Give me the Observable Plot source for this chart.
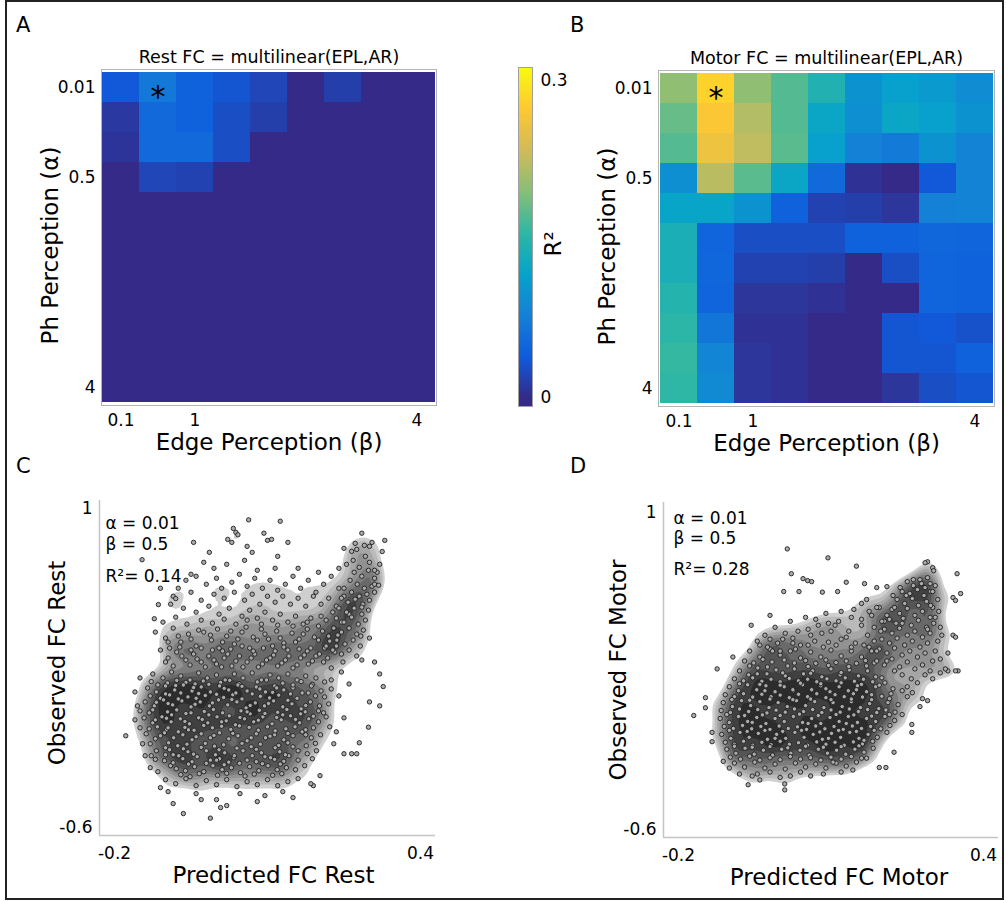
<!DOCTYPE html>
<html><head><meta charset="utf-8">
<script src="https://cdn.jsdelivr.net/npm/d3@7"></script>
<script src="https://cdn.jsdelivr.net/npm/@observablehq/plot@0.6"></script>
<style>
body{margin:0;background:#fff;}
#fig{position:relative;width:1006px;height:901px;overflow:hidden;background:#fff;font-family:'DejaVu Sans',sans-serif;}
#border{position:absolute;left:5px;top:0px;width:995px;height:896px;border:2px solid #222;pointer-events:none;}
</style></head><body><div id="fig"></div>
<script>
// ---------------- data ----------------
const betaLabels = ["0.1","0.5","1","1.5","2","2.5","3","3.5","4"];
const alphaLabels = ["0.01","0.1","0.25","0.5","1","1.5","2","2.5","3","3.5","4"];
const betaTicks = ["0.1","1","4"];
const alphaTicks = ["0.01","0.5","4"];
const best = [{alpha:"0.01", beta:"0.5"}];

// R^2, rows = alpha (top to bottom), cols = beta
const restR2 = [
 [0.037,0.069,0.044,0.034,0.022,0,0.016,0,0],
 [0.012,0.053,0.044,0.028,0.016,0,0,0,0],
 [0.008,0.053,0.053,0.028,0,0,0,0,0],
 [0,0.022,0.019,0,0,0,0,0,0],
 [0,0,0,0,0,0,0,0,0],
 [0,0,0,0,0,0,0,0,0],
 [0,0,0,0,0,0,0,0,0],
 [0,0,0,0,0,0,0,0,0],
 [0,0,0,0,0,0,0,0,0],
 [0,0,0,0,0,0,0,0,0],
 [0,0,0,0,0,0,0,0,0]
];
const motorR2 = [
 [0.200,0.281,0.200,0.172,0.144,0.097,0.112,0.106,0.090],
 [0.181,0.271,0.218,0.172,0.122,0.094,0.122,0.112,0.097],
 [0.172,0.259,0.225,0.175,0.112,0.078,0.072,0.097,0.081],
 [0.094,0.222,0.175,0.122,0.053,0.006,0.000,0.037,0.081],
 [0.119,0.119,0.097,0.044,0.019,0.016,0.009,0.078,0.081],
 [0.137,0.047,0.028,0.028,0.028,0.044,0.044,0.050,0.047],
 [0.137,0.050,0.019,0.019,0.016,0.000,0.028,0.047,0.044],
 [0.147,0.047,0.009,0.009,0.006,0.000,0.000,0.047,0.044],
 [0.153,0.066,0.006,0.006,0.000,0.000,0.034,0.037,0.031],
 [0.159,0.084,0.009,0.006,0.000,0.000,0.034,0.034,0.044],
 [0.156,0.087,0.009,0.006,0.000,0.000,0.009,0.028,0.034]
];
const colorTicks = [0, 0.3];
const parulaColors = ["#352A87","#0F5CDD","#1481D6","#06A4CA","#2EB7A4","#87BF77","#D1BB59","#FEC832","#F9FB0E"];

// scatter points (thousandths): [predicted, observed]
const restCore = [
[-125,170],[-105,150],[-88,180],[-70,160],[-52,140],[-35,175],[-18,150],[0,165],[17,140],[35,170],[52,150],[70,175],[88,140],[105,165],[122,150],[140,170],[158,140],[175,160],[195,150],[212,130],
[-128,132],[-96,125],[-78,138],[-60,128],[-42,120],[-26,135],[8,128],[26,138],[44,122],[80,130],[98,140],[130,124],[166,132],[188,118],[225,140],
[-135,100],[-118,80],[-100,110],[-82,90],[-65,115],[-48,85],[-30,105],[-12,80],[6,110],[24,90],[42,115],[60,85],[78,105],[96,80],[114,110],[132,90],[150,100],[168,75],[186,110],[205,85],[225,95],
[-130,60],[-110,48],[-92,65],[-56,55],[-40,48],[-22,62],[14,52],[32,66],[50,45],[86,58],[104,50],[122,64],[158,48],[194,60],[212,55],
[-140,30],[-122,10],[-104,40],[-86,15],[-68,35],[-50,5],[-32,30],[-14,10],[4,40],[22,15],[40,30],[58,0],[76,25],[94,10],[112,35],[130,5],[148,20],[166,-5],[184,30],[202,10],[220,20],
[-150,-15],[-132,-25],[-96,-20],[-78,-10],[-60,-28],[-24,-18],[-6,-8],[12,-25],[48,-15],[66,-30],[84,-12],[120,-22],[138,-8],[174,-20],[210,-25],
[-142,-50],[-125,-75],[-107,-45],[-89,-70],[-71,-55],[-53,-80],[-35,-50],[-17,-75],[1,-45],[19,-65],[37,-85],[55,-55],[73,-70],[91,-45],[109,-80],[127,-60],[145,-40],[163,-75],[181,-55],[200,-70],[215,-45],
[-132,-105],[-116,-95],[-98,-110],[-62,-98],[-44,-112],[-8,-100],[10,-92],[28,-108],[64,-98],[82,-112],[100,-95],[136,-105],[154,-95],[190,-100],[222,-95],
[-138,-130],[-120,-155],[-102,-125],[-84,-150],[-66,-135],[-48,-160],[-30,-130],[-12,-150],[6,-125],[24,-155],[42,-140],[60,-165],[78,-130],[96,-150],[114,-135],[132,-160],[150,-140],[168,-120],[186,-150],[204,-135],
[-130,-180],[-94,-175],[-76,-190],[-58,-182],[-22,-178],[-4,-192],[14,-185],[50,-178],[68,-195],[86,-182],[122,-188],[140,-175],[176,-190],[194,-178],
[-118,-215],[-100,-235],[-92,-210],[-74,-240],[-56,-220],[-38,-245],[-20,-215],[-2,-235],[16,-225],[34,-250],[52,-215],[70,-240],[88,-225],[106,-250],[124,-220],[142,-240],[160,-215],[178,-230],
[-102,-265],[-66,-255],[-48,-270],[-12,-262],[6,-255],[24,-272],[60,-262],[78,-270],[114,-258],[132,-268],[160,-262],
[-90,-290],[-79,-305],[-61,-315],[-43,-295],[-25,-320],[-7,-290],[11,-310],[29,-300],[47,-325],[65,-295],[83,-315],[101,-290],[119,-310],[137,-300],
[-70,-335],[-52,-345],[-34,-330],[2,-338],[20,-328],[56,-342],[74,-332],[110,-338],[128,-330],
[-115,115],[-80,112],[-45,102],[-15,118],[15,98],[50,108],[85,95],[118,100],[150,115],
[-118,28],[-95,22],[-75,45],[-42,18],[-8,25],[30,42],[66,12],[102,22],[140,38],[175,12],
[-120,-60],[-98,-52],[-62,-68],[-28,-58],[10,-70],[46,-48],[82,-62],[118,-48],[155,-58],[190,-42],
[-110,-140],[-75,-120],[-40,-145],[-5,-138],[32,-128],[68,-150],[105,-142],[140,-128],[175,-135],
[-100,-200],[-65,-205],[-30,-198],[5,-210],[40,-202],[78,-208],[115,-200],[150,-195],
[-85,-275],[-55,-282],[-20,-278],[15,-285],[45,-278],[90,-280],[125,-282],
[-100,70],[-70,75],[-35,72],[0,68],[38,75],[70,70],[110,78],[145,70],[180,75],
[-125,-10],[-88,-35],[-50,-25],[-15,-35],[25,-40],[60,-20],[95,-28],[130,-35],[165,-30],[200,-15],
[-95,-100],[-55,-110],[-25,-88],[45,-90],[115,-115],[175,-110],[-85,-235],[-45,-232],[0,-262],[35,-240],[95,-245],[135,-235]
];
const restMid = [
[-120,380],[-100,350],[-85,400],[-70,330],[-55,370],[-40,310],[-25,380],[-10,340],[5,300],[20,360],[35,320],[50,380],[65,300],[80,340],[95,370],[110,310],[125,350],[140,290],[155,330],[170,370],[185,300],[200,340],
[-110,290],[-95,250],[-78,280],[-60,240],[-45,270],[-30,230],[-15,260],[0,220],[15,250],[30,210],[45,260],[60,230],[75,270],[90,220],[105,250],[120,210],[135,240],[150,200],[165,250],[180,220],[195,260],[210,230],[225,200],
[-95,330],[-75,360],[-50,345],[-35,390],[-12,365],[2,395],[12,330],[28,385],[42,345],[58,405],[72,355],[88,395],[102,345],[118,385],[132,325],[148,375],[162,345],[178,395],[192,355],[208,385],[222,335],[238,365],
[-105,430],[-80,455],[-58,420],[-30,440],[-8,425],[15,445],[38,420],[60,440],[88,420],[120,415],[150,410],[178,430],[205,460],[228,480],
[-100,230],[-85,210],[-68,260],[-52,215],[-38,245],[-22,205],[-5,240],[10,205],[22,270],[38,235],[52,205],[68,250],[82,205],[98,240],[112,265],[128,225],[142,260],[158,215],[172,265],[188,235],[202,270],[218,250],[232,280],[248,230],
[-92,300],[-72,305],[-50,290],[-30,300],[-8,290],[12,285],[28,295],[50,310],[72,285],[92,300],[115,285],[132,305],[162,295],[178,285],[212,300],[235,310],
[-60,640],[-40,660],[-20,620],[0,650],[10,600],[30,630],[45,670],[60,610],[75,650],[90,600],[105,640],[120,590],[135,620],[150,660],[165,600],[180,640],[195,580],[210,620],[225,660],[240,600],
[-75,600],[-50,580],[-30,540],[-5,570],[15,550],[35,580],[55,540],[70,570],[85,520],[100,560],[115,530],[130,560],[145,520],[160,550],[175,510],[190,560],[205,520],[220,550],[235,510],[250,560],
[-90,520],[-65,500],[-40,480],[-15,510],[5,470],[25,500],[50,460],[65,490],[80,450],[95,480],[110,440],[125,470],[140,430],[155,460],[170,420],[185,450],[200,410],[215,440],[230,400],[245,430],[260,470],
[20,720],[55,740],[-5,700],[80,690],[115,700],[160,700],[200,680],[240,700],[70,780],[120,760],
[255,720],[268,740],[280,705],[292,760],[300,730],[270,680],[285,660],[298,690],[310,650],[262,640],[276,620],[290,600],[305,610],[250,600],[265,580],[280,560],[295,570],[245,550],[258,530],[272,545],[287,520],[300,540],[240,500],[255,480],[270,500],[285,470],[298,490],[235,450],[250,430],[265,455],[278,420],[292,440],[230,400],[245,380],[260,400],[275,370],[288,390],[300,350],[220,360],[236,340],[252,320],[268,340],[282,310],[215,310],[228,290],[245,270],[260,290],[275,260],[320,720],[315,680]
];
const restOut = [
[63,943],[125,936],[33,900],[38,880],[42,868],[93,876],[-45,830],[22,845],[30,830],[60,810],[100,840],[108,845],[140,830],[285,876],[330,840],[325,784],[272,825],[290,815],[305,830],[300,810],[250,800],[265,785],[275,795],[-14,780],[-146,743],[-50,670],[-25,730],[-110,600],[-122,447],[-114,518],[-85,560],[-80,548],[310,690],[310,620],[318,615],[310,580],[285,505],[283,360],[310,230],[285,240],
[-85,-480],[-65,-530],[-12,-553],[0,-460],[8,-500],[20,-490],[-40,-430],[-95,-420],[46,-430],[80,-470],[95,-440],[150,-450],[130,-420],[190,-390],[203,-340],[185,-380],[-110,-400],[-30,-460],
[-100,-360],[-80,-380],[-60,-355],[-40,-390],[-20,-365],[0,-385],[20,-360],[40,-395],[60,-370],[80,-385],[100,-360],[120,-390],[140,-370],[160,-355],
[-115,-320],[155,-310],[173,-290],[-120,-258],[188,-255],[196,-215],[-128,-240],
[-178,-140],[-160,-60],[-155,10],[-150,-100],[-160,80],[-150,150],[-145,-180],[-140,-240],[-130,-300],
[298,-97],[280,-175],[250,-230],[265,-230],[275,-230],[327,107],[320,10],[320,170],[240,60],[250,-50],[235,-120],[260,120],[245,180],[230,-180],[300,30]
];

const motorCore = [
[-60,300],[-40,270],[-20,310],[0,280],[20,300],[40,265],[60,295],[80,270],[100,305],[120,275],[140,300],[160,270],[175,320],
[-70,250],[-52,240],[-34,258],[-16,245],[8,255],[28,240],[50,252],[70,238],[90,255],[110,242],[130,250],[150,238],[168,252],[185,240],
[-80,200],[-62,180],[-44,215],[-26,185],[-8,205],[10,175],[28,210],[46,185],[64,200],[82,170],[100,210],[118,180],[136,205],[154,175],[172,200],[188,170],
[-90,160],[-72,150],[-54,165],[-36,148],[-18,158],[0,145],[18,162],[36,150],[54,158],[72,145],[92,160],[110,150],[128,165],[146,148],[164,158],[182,145],[200,165],
[-100,120],[-82,100],[-64,130],[-46,105],[-28,125],[-10,95],[8,120],[26,100],[44,130],[62,105],[80,125],[98,95],[116,120],[134,100],[152,125],[170,95],[188,120],[206,140],[222,110],
[-108,80],[-90,70],[-72,85],[-54,68],[-36,82],[-18,70],[0,78],[18,65],[36,82],[54,70],[72,85],[90,65],[108,80],[126,70],[144,85],[162,68],[180,80],[200,72],[218,85],
[-112,40],[-94,20],[-76,50],[-58,25],[-40,45],[-22,15],[-4,40],[14,20],[32,50],[50,25],[68,45],[86,15],[104,40],[122,20],[140,45],[158,15],[176,35],[194,10],[212,40],[232,30],[250,70],
[-116,0],[-98,-10],[-80,8],[-62,-5],[-44,5],[-26,-12],[-8,2],[10,-8],[28,8],[46,-5],[64,5],[82,-10],[100,3],[118,-8],[136,8],[154,-5],[172,5],[190,-10],[208,3],[226,-8],
[-118,-40],[-100,-60],[-82,-30],[-64,-55],[-46,-35],[-28,-65],[-10,-40],[8,-55],[26,-30],[44,-60],[62,-40],[80,-65],[98,-35],[116,-55],[134,-30],[152,-60],[170,-40],[188,-55],[206,-30],[225,-50],[240,-20],
[-110,-80],[-92,-90],[-74,-75],[-56,-92],[-38,-80],[-20,-95],[-2,-78],[16,-90],[34,-82],[52,-95],[70,-78],[88,-92],[106,-80],[124,-95],[142,-78],[160,-90],[178,-80],[198,-92],[216,-75],
[-115,-120],[-97,-140],[-79,-110],[-61,-135],[-43,-115],[-25,-145],[-7,-120],[11,-140],[29,-110],[47,-135],[65,-120],[83,-145],[101,-115],[119,-135],[137,-110],[155,-140],[173,-120],[191,-135],[210,-110],
[-108,-160],[-90,-170],[-72,-155],[-54,-175],[-36,-160],[-18,-172],[0,-155],[18,-170],[36,-162],[54,-175],[72,-158],[90,-170],[108,-160],[126,-175],[144,-158],[162,-168],[182,-155],
[-105,-195],[-87,-215],[-69,-190],[-51,-220],[-33,-200],[-15,-225],[3,-195],[21,-215],[39,-200],[57,-225],[75,-195],[93,-215],[111,-200],[129,-220],[147,-195],[165,-210],[183,-190],
[-98,-235],[-78,-245],[-60,-230],[-40,-250],[-20,-238],[0,-248],[20,-232],[40,-245],[60,-238],[80,-250],[100,-235],[120,-245],[140,-232],[160,-240],
[-90,-265],[-70,-285],[-50,-260],[-30,-290],[-10,-270],[10,-295],[30,-265],[50,-285],[70,-270],[90,-290],[110,-265],[130,-280],[150,-260],
[-60,225],[-25,220],[15,225],[55,222],[95,228],[135,222],[170,225],
[-80,135],[-40,132],[0,128],[40,138],[80,135],[120,140],[160,132],[195,128],
[-95,55],[-60,52],[-20,58],[25,55],[60,58],[100,55],[140,58],[180,55],[215,60],
[-105,-20],[-70,-25],[-35,-22],[0,-25],[38,-18],[75,-25],[110,-20],[145,-22],[180,-28],[215,-20],
[-100,-100],[-65,-105],[-30,-100],[5,-105],[42,-100],[78,-108],[115,-100],[150,-105],[185,-100],
[-90,-180],[-55,-185],[-20,-182],[15,-188],[50,-180],[85,-185],[120,-182],[155,-178],
[-45,185],[5,190],[60,188],[120,192],[-30,100],[25,105],[90,110],[150,105],[-55,-60],[55,-65],[130,-65],[-10,-140],[95,-140],[165,-150]
];
const motorMid = [
[-30,380],[-10,420],[5,360],[20,450],[35,400],[50,470],[60,380],[75,430],[90,490],[100,400],[115,450],[130,370],[145,510],[160,430],[170,560],[180,480],[195,520],[205,450],[-45,350],[-25,320],[0,300],[25,340],
[-40,330],[-20,360],[-5,340],[10,390],[25,365],[40,330],[55,410],[68,350],[82,390],[95,345],[108,430],[120,360],[135,400],[148,340],[160,460],[172,380],[185,420],[190,520],[175,500],[160,540],[140,470],[120,500],[95,440],[70,460],[-15,300],[30,310],[55,330],[85,320],[110,330],[140,320],[165,330],[180,300],
[250,650],[262,630],[275,660],[285,620],[295,640],[240,600],[255,590],[270,610],[283,580],[296,600],[230,560],[245,540],[260,565],[272,530],[288,550],[300,520],[220,510],[235,490],[250,515],[265,480],[280,500],[295,470],[215,460],[228,440],[242,465],[258,430],[272,455],[288,420],[302,440],[205,410],[220,390],[235,415],[250,380],[265,400],[280,370],[295,390],[310,350],[200,360],[215,340],[230,365],[245,330],[260,350],[275,320],[290,340],[305,300],[195,310],[210,290],[225,315],[240,280],[255,300],[270,270],[285,290],[300,250],[315,260],[190,250],[205,230],[220,260],[235,220],[250,245],[265,210],[280,230],[295,200],
[262,660],[278,640],[290,670],[305,630],[300,600],[310,560],[296,530],[312,500],[305,470],[315,420],[290,410],[318,380],[210,480],[225,520],[240,440],[248,580],[236,620],[222,580],[200,450],[198,400],[185,350],[190,300],[210,250],[225,200],[240,180],[258,160],[270,140],[285,180],[300,160],[250,120],[240,100],[260,90]
];
const motorOut = [
[14,815],[94,770],[150,728],[22,690],[54,655],[45,665],[62,650],[7,600],[37,600],[83,597],[113,600],[130,647],[166,640],[190,620],[210,625],[290,750],[285,745],[300,720],[302,705],[348,690],[355,590],[340,570],[345,555],[-20,480],[-57,430],[-93,270],[-124,210],[340,380],[345,370],[330,290],[330,200],[350,200],
[-170,-25],[-147,65],[-147,14],[-134,-110],[-134,-157],[-112,-256],[-63,-374],[-55,-330],[-45,-320],[0,-337],[9,-400],[9,-370],[104,-260],[143,-300],[195,-287],[208,-287],[224,-210],[259,-70],[259,-110],[275,20],[290,50],[280,60],[315,190],[325,210],[345,200],
[-80,-320],[-40,-350],[-20,-310],[20,-330],[40,-310],[60,-330],[85,-320],[120,-310],[170,-240],[-100,-290]
];

// ---------------- helpers ----------------
const FONT = "'DejaVu Sans', sans-serif";
const fig = document.getElementById("fig");
const parula = d3.piecewise(d3.interpolateRgb, parulaColors);
const colorScale = {type:"linear", domain:[0, 0.312], interpolate: parula, clamp:true};
// grey ramp for the point-density backdrop: low densities stay white
const greyRamp = t => t < 0.38 ? "#ffffff" : d3.interpolateRgb("#d0d0d0", "#2c2c2c")((t - 0.38) / 0.62);
const baseStyle = {fontFamily: FONT, fontSize: "17px", color: "#000", background: "transparent", overflow: "visible"};

function place(node, left, top){
  const d = document.createElement("div");
  d.style.cssText = `position:absolute;left:${left}px;top:${top}px;`;
  d.appendChild(node); fig.appendChild(d);
}
const pts = a => a.map(([x,y]) => ({x: x/1000, y: y/1000}));

function heatmap(matrix, title, m){
  const cells = matrix.flatMap((row,i) => row.map((v,j) => ({alpha: alphaLabels[i], beta: betaLabels[j], r2: v})));
  return Plot.plot({
    width: m.width, height: m.height,
    marginLeft: m.left, marginRight: m.right, marginTop: m.top, marginBottom: m.bottom,
    style: baseStyle,
    x: {type:"band", domain: betaLabels, padding: 0},
    y: {type:"band", domain: alphaLabels, padding: 0},
    color: colorScale,
    marks: [
      Plot.cell(cells, {x:"beta", y:"alpha", fill:"r2", inset:0, shapeRendering:"crispEdges"}),
      Plot.frame({stroke:"#b4b4b4", strokeWidth:1}),
      Plot.axisX({ticks: betaTicks, tickSize:0, tickPadding:8, fontSize:17, label:null}),
      Plot.axisY({ticks: alphaTicks, tickSize:0, tickPadding:6, fontSize:17, label:null}),
      Plot.text(best, {x:"beta", y:"alpha", text: () => "*", fontSize:30, dy:10}),
      Plot.text([title], {frameAnchor:"top", dy:-12, fontSize:17.5, lineAnchor:"middle"}),
      Plot.text(["Edge Perception (β)"], {frameAnchor:"bottom", dy:37, fontSize:23, lineAnchor:"middle"}),
      Plot.text(["Ph Perception (α)"], {frameAnchor:"left", dx:-51, dy:8, rotate:-90, fontSize:23, textAnchor:"middle", lineAnchor:"middle"})
    ]
  });
}

function scatter(core, mid, out, ann, xLabel, yLabel, m){
  const all = pts([...core, ...mid, ...out]);
  const xd = [-0.2295, 0.4295], yd = [-0.64, m.ymax];
  return Plot.plot({
    width: m.width, height: m.height,
    marginLeft: m.left, marginRight: m.right, marginTop: m.top, marginBottom: m.bottom,
    style: baseStyle,
    x: {domain: xd}, y: {domain: yd},
    color: {type:"linear", interpolate: greyRamp},
    marks: [
      Plot.density(all, {x:"x", y:"y", bandwidth:8, thresholds:14, fill:"density", stroke:"none"}),
      Plot.ruleX([xd[0]], {stroke:"#c4c4c4", strokeWidth:1.5}),
      Plot.ruleY([yd[0]], {stroke:"#c4c4c4", strokeWidth:1.5}),
      Plot.dot(all, {x:"x", y:"y", r:2.2, fill:"#ababab", stroke:"#1e1e1e", strokeWidth:0.9}),
      Plot.axisX({ticks:[-0.2, 0.4], tickSize:0, tickPadding:11, tickFormat: d => String(d), fontSize:17, label:null}),
      Plot.axisY({ticks:[-0.6, 1], tickSize:0, tickPadding:7, tickFormat: d => String(d), fontSize:17, label:null}),
      ...ann.lines.map(l => Plot.text([l.t], {frameAnchor:"top-left", dx: ann.dx, dy: l.dy, fontSize:17, textAnchor:"start", lineAnchor:"middle"})),
      Plot.text([xLabel], {frameAnchor:"bottom", dx: m.xlDx, dy:40, fontSize:23, lineAnchor:"middle"}),
      Plot.text([yLabel], {frameAnchor:"left", dx: -m.ylOff, dy: m.ylDy, rotate:-90, fontSize:23, textAnchor:"middle", lineAnchor:"middle"})
    ]
  });
}

// ---------------- panels ----------------
place(heatmap(restR2, "Rest FC = multilinear(EPL,AR)", {width:450, height:460, left:101, right:14, top:69, bottom:55}), 0, 0);

// colorbar
place(Plot.plot({
  width:100, height:460, marginLeft:18, marginRight:68, marginTop:67, marginBottom:54,
  style: baseStyle,
  x: {domain:[0,1], axis:null},
  y: {domain:[-0.008, 0.312]},
  color: colorScale,
  marks: [
    Plot.raster({fill: (x, y) => y, x1:0, x2:1, y1:-0.008, y2:0.312, width:1, height:340}),
    Plot.frame({stroke:"#a0a0a0"}),
    Plot.axisY({anchor:"right", ticks: colorTicks, tickSize:0, tickPadding:8, tickFormat: d => String(d), fontSize:17, label:null}),
    Plot.text(["R²"], {frameAnchor:"right", dx:21, dy:7, rotate:-90, fontSize:23, textAnchor:"middle", lineAnchor:"middle"})
  ]
}), 500, 0);

place(heatmap(motorR2, "Motor FC = multilinear(EPL,AR)", {width:446, height:460, left:98, right:12, top:70, bottom:54}), 560, 0);

place(scatter(restCore, restMid, restOut,
  {dx:6, lines:[{t:"α = 0.01", dy:23},{t:"β = 0.5", dy:44},{t:"R²= 0.14", dy:76}]},
  "Predicted FC Rest", "Observed FC Rest",
  {width:450, height:451, left:99, right:15, top:50, bottom:66, ymax:1.04, xlDx:6, ylOff:42, ylDy:-5}), 0, 450);

place(scatter(motorCore, motorMid, motorOut,
  {dx:10, lines:[{t:"α = 0.01", dy:16},{t:"β = 0.5", dy:36},{t:"R²= 0.28", dy:67}]},
  "Predicted FC Motor", "Observed FC Motor",
  {width:446, height:451, left:103, right:8, top:52, bottom:64, ymax:1.049, xlDx:8, ylOff:45, ylDy:0}), 560, 450);

// panel letters
fig.insertAdjacentHTML("beforeend",
  `<svg width="1006" height="901" style="position:absolute;left:0;top:0;pointer-events:none;font-family:${FONT};font-size:21px">
    <text x="16" y="32">A</text><text x="570" y="32">B</text>
    <text x="16" y="473">C</text><text x="570" y="473">D</text></svg>`);
const b = document.createElement("div"); b.id = "border"; fig.appendChild(b);
</script></body></html>
